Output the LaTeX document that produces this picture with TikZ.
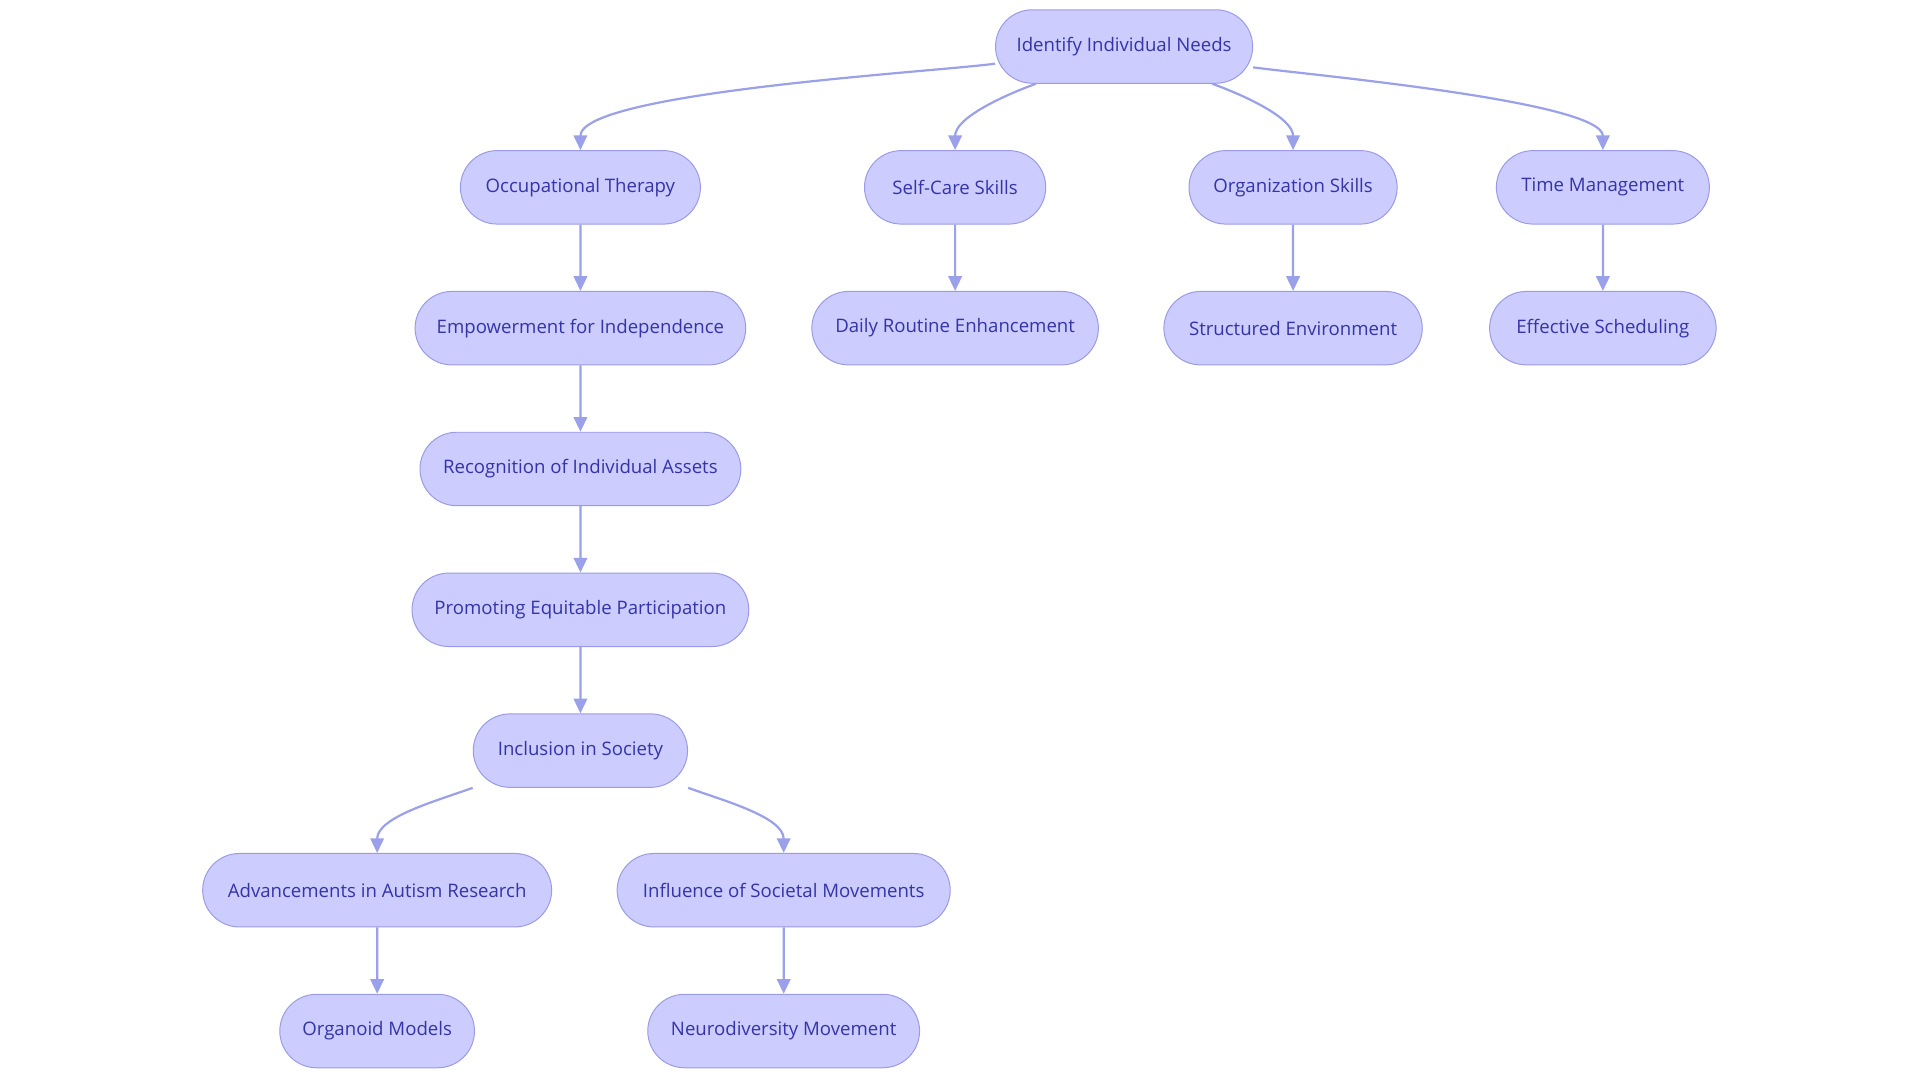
\documentclass[tikz,border=0pt]{standalone}
\usepackage{fontspec}
\setmainfont{Open Sans}
\usetikzlibrary{shapes.misc, arrows.meta}
\definecolor{boxfill}{HTML}{CCCCFF}
\definecolor{boxline}{HTML}{9A9AE6}
\definecolor{boxtext}{HTML}{3434A8}
\definecolor{linkcol}{HTML}{9AA0EA}
\tikzset{
  box/.style={rounded rectangle, draw=boxline, fill=boxfill, text=boxtext,
    minimum height=30pt, inner xsep=0pt, font=\fontsize{7.6}{9}\selectfont},
  link/.style={draw=linkcol, line width=0.9pt, -{Triangle[length=6pt,width=5.5pt]}}
}
\begin{document}
\begin{tikzpicture}[x=0.5pt,y=-0.5pt]
\useasboundingbox (0,0) rectangle (1568,882);
\node[box, minimum width=105pt] (id) at (918,38) {Identify Individual Needs};
\node[box, minimum width=98pt] (ot) at (474,153) {Occupational Therapy};
\node[box, minimum width=74pt] (sc) at (780,153) {Self-Care Skills};
\node[box, minimum width=85pt] (os) at (1056,153) {Organization Skills};
\node[box, minimum width=87pt] (tm) at (1309,153) {Time Management};
\node[box, minimum width=135pt] (ei) at (474,268) {Empowerment for Independence};
\node[box, minimum width=117pt] (dr) at (780,268) {Daily Routine Enhancement};
\node[box, minimum width=105.5pt] (se) at (1056,268) {Structured Environment};
\node[box, minimum width=92.5pt] (es) at (1309,268) {Effective Scheduling};
\node[box, minimum width=131pt] (ri) at (474,383) {Recognition of Individual Assets};
\node[box, minimum width=137.5pt] (pe) at (474,498) {Promoting Equitable Participation};
\node[box, minimum width=87.5pt] (is) at (474,613) {Inclusion in Society};
\node[box, minimum width=142.5pt] (ar) at (308,727) {Advancements in Autism Research};
\node[box, minimum width=136pt] (sm) at (640,727) {Influence of Societal Movements};
\node[box, minimum width=79.5pt] (om) at (308,842) {Organoid Models};
\node[box, minimum width=111pt] (nm) at (640,842) {Neurodiversity Movement};

\draw[link] ([yshift=-7pt]id.west) to[out=188,in=90,looseness=0.35] (ot.north);
\draw[link] ([xshift=-36pt]id.south) to[out=200,in=90,looseness=0.8] (sc.north);
\draw[link] ([xshift=36pt]id.south) to[out=-20,in=90,looseness=0.8] (os.north);
\draw[link] ([yshift=-8.5pt]id.east) to[out=-8,in=90,looseness=0.35] (tm.north);
\draw[link] (ot) -- (ei);
\draw[link] (sc) -- (dr);
\draw[link] (os) -- (se);
\draw[link] (tm) -- (es);
\draw[link] (ei) -- (ri);
\draw[link] (ri) -- (pe);
\draw[link] (pe) -- (is);
\draw[link] ([xshift=-44pt]is.south) to[out=200,in=90,looseness=0.8] (ar.north);
\draw[link] ([xshift=44pt]is.south) to[out=-20,in=90,looseness=0.8] (sm.north);
\draw[link] (ar) -- (om);
\draw[link] (sm) -- (nm);
\end{tikzpicture}
\end{document}
